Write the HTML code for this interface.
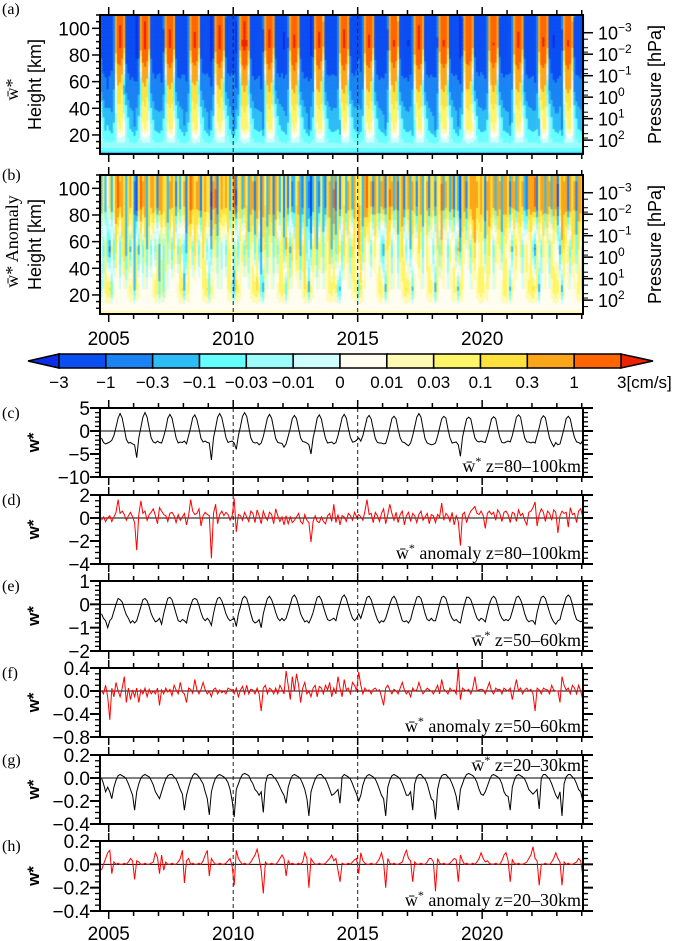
<!DOCTYPE html>
<html><head><meta charset="utf-8">
<style>
html,body{margin:0;padding:0;background:#fff;}
#wrap{position:relative;width:685px;height:941px;overflow:hidden;}
canvas,svg{position:absolute;left:0;top:0;}
text{font-family:"Liberation Sans",sans-serif;}
.serif{font-family:"Liberation Serif",serif;}
</style></head>
<body>
<div id="wrap">
<canvas id="cv" width="685" height="941"></canvas>
<svg id="sv" width="685" height="941" xmlns="http://www.w3.org/2000/svg"></svg>
</div>
<script>
// ---- data: monthly values from Sep 2004 to Jan 2024 ----
const startYear = 2004 + 8/12;
const wUpper = [-1.5,-2.5,-2.8,-2.6,
-2.4,-2.0,-1.0,0.8,2.8,3.8,2.8,0.5,-1.8,-2.6,-2.5,-2.8,
-3.0,-5.8,-1.5,0.8,3.0,4.0,3.0,0.6,-1.5,-2.4,-2.6,-2.2,
-2.5,-2.6,-1.2,0.5,2.8,3.6,2.8,0.6,-1.5,-2.6,-2.4,-2.5,
-2.2,-2.8,-1.0,0.8,2.9,3.5,2.5,0.5,-1.6,-2.4,-2.2,-2.5,
-2.6,-6.3,-1.5,0.7,3.0,3.8,2.9,0.8,-1.4,-2.5,-2.3,-2.2,
-2.6,-4.0,-1.0,1.0,3.2,4.0,3.2,0.8,-1.5,-2.4,-2.6,-2.5,
-3.0,-2.6,-1.2,0.8,2.8,3.6,2.8,0.5,-1.6,-2.5,-2.6,-2.7,
-3.5,-2.8,-1.1,0.6,2.7,3.4,2.7,0.5,-1.5,-2.3,-2.4,-2.6,
-3.0,-5.0,-1.5,0.5,2.8,3.5,2.6,0.4,-1.6,-2.6,-2.5,-2.4,
-2.8,-2.5,-1.0,0.8,2.9,3.6,2.8,0.6,-1.4,-2.4,-2.3,-2.0,
-1.5,-2.2,-1.0,0.8,2.8,3.4,2.6,0.5,-1.6,-2.5,-2.6,-2.6,
-2.8,-2.7,-1.2,0.6,2.7,3.2,2.6,0.4,-1.5,-2.4,-2.5,-2.9,
-3.2,-2.6,-1.0,0.9,3.0,3.8,3.0,0.6,-1.7,-2.6,-2.8,-3.0,
-2.9,-2.6,-1.1,0.7,2.6,3.2,2.8,0.5,-1.5,-2.6,-2.5,-2.4,
-3.0,-5.5,-1.4,0.6,2.6,3.0,2.6,0.5,-1.5,-2.2,-2.4,-2.2,
-2.4,-2.5,-1.0,0.6,2.6,3.1,2.7,0.5,-1.4,-2.5,-2.6,-2.4,
-2.2,-2.4,-1.0,0.9,3.0,3.5,3.0,0.6,-1.5,-2.4,-2.4,-2.6,
-2.4,-2.6,-1.0,0.7,2.7,3.3,2.9,0.5,-1.6,-2.6,-3.4,-2.5,
-3.0,-2.8,-1.2,0.6,2.7,3.2,2.6,0.4,-1.4,-2.4,-2.5,-2.8,
-2.0];
const aUpper = [-0.2,0.1,-0.3,0.0,
0.2,-0.3,0.1,0.5,1.6,0.4,0.6,0.3,-0.2,0.2,0.5,0.1,
-0.4,-2.8,0.3,1.5,0.4,0.6,-0.2,0.3,0.5,0.8,0.2,-0.5,
0.9,0.6,0.3,0.2,-0.3,0.4,0.5,0.2,-0.4,0.3,-0.2,0.1,
0.4,-0.6,0.2,1.6,0.6,0.3,0.4,0.8,-0.7,0.2,0.5,0.3,
0.2,-3.5,0.4,1.2,-0.5,0.3,0.6,0.2,0.5,0.3,-0.2,0.2,
1.7,-1.2,0.3,0.2,-0.2,0.5,0.1,-0.3,0.6,0.4,-0.4,0.7,
0.2,-0.5,0.6,0.1,-0.2,0.5,0.3,-0.5,0.8,0.2,-0.3,0.1,
-0.6,0.2,-0.5,0.1,-0.4,-0.2,0.1,0.4,-0.3,-0.5,0.3,-0.2,
-0.4,-2.1,-0.3,0.2,-0.3,-0.4,0.1,-0.3,-0.5,0.2,0.4,-0.3,
1.2,-0.4,0.3,-0.6,0.2,0.1,-0.3,0.4,0.2,-0.2,0.5,0.1,
0.3,0.1,-0.2,0.6,1.6,0.3,0.4,-0.4,0.5,0.2,-0.3,0.4,
0.8,-0.5,0.3,1.2,0.4,-0.2,0.5,-0.4,0.3,0.6,-0.6,0.2,
0.5,-0.3,0.4,0.2,-0.4,0.3,0.6,-0.2,0.1,0.4,-0.5,0.3,
0.2,-0.4,0.3,0.1,1.3,-0.2,0.4,0.2,-0.3,0.5,-0.6,0.2,
-0.3,-2.4,0.3,0.5,-0.4,0.2,0.6,0.8,1.0,0.4,0.3,0.6,
0.2,-0.9,0.4,0.6,0.3,0.5,-0.2,0.7,0.4,-0.3,0.5,0.6,
0.3,-0.4,0.5,0.4,-0.3,0.7,0.2,0.4,-0.2,-0.6,0.5,0.6,
0.9,1.4,-0.7,0.3,0.8,0.5,-0.3,0.6,0.4,-0.2,0.7,0.5,
-1.3,0.2,0.6,0.4,0.5,-0.8,0.9,0.3,0.4,-0.4,0.6,0.8,
0.1];
const wMid = [-0.4,-0.6,-0.7,-1.0,
-0.7,-0.6,-0.3,0.0,0.25,0.2,0.1,-0.2,-0.45,-0.6,-0.8,-0.7,
-0.8,-0.7,-0.4,-0.1,0.2,0.25,0.15,-0.1,-0.4,-0.6,-0.75,-0.7,
-0.6,-0.85,-0.4,-0.05,0.25,0.3,0.2,-0.1,-0.4,-0.7,-0.75,-0.65,
-0.7,-0.8,-0.35,-0.05,0.2,0.25,0.2,-0.05,-0.35,-0.6,-0.7,-0.6,
-0.7,-0.9,-0.4,0.0,0.25,0.3,0.15,-0.1,-0.4,-0.6,-0.7,-0.65,
-0.6,-0.95,-0.4,-0.1,0.25,0.35,0.25,-0.05,-0.4,-0.7,-0.8,-0.75,
-0.65,-1.0,-0.4,-0.05,0.25,0.35,0.2,-0.05,-0.35,-0.6,-0.7,-0.6,
-0.7,-0.6,-0.3,0.0,0.3,0.4,0.25,-0.05,-0.4,-0.6,-0.75,-0.7,
-0.8,-0.6,-0.35,0.0,0.3,0.35,0.2,-0.1,-0.4,-0.65,-0.7,-0.65,
-0.6,-0.7,-0.3,0.0,0.3,0.4,0.25,-0.05,-0.35,-0.6,-0.7,-0.6,
-0.4,-0.6,-0.3,0.0,0.3,0.35,0.2,-0.1,-0.4,-0.65,-0.8,-0.7,
-0.75,-0.6,-0.3,0.0,0.25,0.35,0.2,-0.1,-0.4,-0.7,-0.75,-0.7,
-0.8,-0.65,-0.3,0.0,0.3,0.35,0.25,-0.05,-0.4,-0.65,-0.7,-0.6,
-0.7,-0.7,-0.35,0.0,0.3,0.35,0.25,-0.05,-0.4,-0.6,-0.7,-0.65,
-0.75,-0.8,-0.35,0.0,0.3,0.3,0.2,-0.05,-0.35,-0.6,-0.7,-0.6,
-0.65,-0.75,-0.35,0.0,0.25,0.35,0.25,-0.05,-0.4,-0.6,-0.7,-0.65,
-0.7,-0.6,-0.3,0.0,0.3,0.35,0.2,-0.05,-0.4,-0.65,-0.75,-0.7,
-0.7,-0.85,-0.35,0.0,0.3,0.35,0.25,-0.05,-0.35,-0.6,-0.75,-0.85,
-0.7,-0.65,-0.3,0.0,0.3,0.4,0.3,0.0,-0.4,-0.65,-0.7,-0.75,
-0.7];
const aMid = [0.0,-0.05,0.1,-0.1,
-0.5,0.05,-0.1,0.15,0.0,-0.1,0.05,0.25,-0.2,0.05,-0.15,0.02,
-0.1,0.05,-0.2,0.02,-0.05,0.05,-0.1,0.03,-0.05,0.0,-0.05,0.05,
-0.25,0.02,-0.05,0.05,-0.02,0.03,-0.08,0.1,0.02,-0.05,0.15,-0.02,
-0.05,-0.2,0.05,0.03,-0.04,0.2,0.02,-0.05,0.03,0.15,0.02,-0.05,
0.0,-0.1,0.03,0.05,-0.05,0.02,-0.03,0.0,-0.05,0.05,0.03,0.02,
-0.05,0.05,-0.1,0.02,0.08,-0.05,0.1,-0.05,0.03,0.02,-0.05,0.05,
-0.05,-0.35,0.05,0.1,-0.05,0.05,0.02,-0.05,0.05,-0.05,0.1,0.03,
-0.05,0.35,0.1,-0.15,0.25,0.0,0.3,0.1,-0.2,0.05,0.15,-0.05,
0.0,-0.1,0.05,0.1,-0.1,0.08,0.05,-0.05,0.1,0.02,0.15,-0.1,
0.05,-0.05,0.25,0.05,-0.1,0.2,0.02,0.05,-0.05,0.15,0.1,0.0,
0.33,0.1,-0.05,0.05,0.0,0.02,-0.05,0.03,0.05,0.0,0.02,-0.1,
-0.25,0.05,0.1,0.02,-0.05,0.03,0.0,-0.05,0.05,0.15,0.02,-0.05,
0.0,-0.1,0.05,0.0,0.02,0.15,0.03,-0.05,0.0,0.05,0.02,0.0,
-0.05,0.02,0.1,-0.05,0.2,0.03,0.0,-0.05,0.05,0.0,0.02,-0.05,
0.4,-0.15,0.05,0.02,0.0,0.03,-0.05,0.05,0.25,0.0,0.02,0.03,
0.02,-0.05,0.05,0.15,0.0,-0.05,0.05,0.02,0.03,-0.05,0.05,0.02,
0.0,0.05,-0.15,0.03,0.2,0.0,0.05,-0.05,0.02,0.05,0.0,0.03,
-0.05,-0.35,0.05,0.02,-0.05,0.05,0.03,0.02,-0.05,0.1,0.02,0.0,
0.0,-0.2,0.25,0.1,0.02,0.05,-0.05,0.1,0.05,-0.05,0.1,0.0,
-0.15];
const wLow = [0.0,-0.05,-0.12,-0.08,
-0.12,-0.18,-0.08,-0.02,0.02,0.03,0.02,0.01,-0.01,-0.05,-0.1,-0.15,
-0.28,-0.12,-0.05,0.0,0.02,0.03,0.02,0.01,-0.02,-0.06,-0.12,-0.15,
-0.18,-0.12,-0.06,-0.01,0.02,0.03,0.03,0.01,-0.01,-0.05,-0.1,-0.14,
-0.28,-0.15,-0.08,-0.02,0.02,0.04,0.03,0.01,-0.02,-0.05,-0.12,-0.18,
-0.32,-0.12,-0.05,0.0,0.02,0.03,0.02,0.01,-0.01,-0.04,-0.1,-0.2,
-0.34,-0.1,-0.05,0.0,0.03,0.04,0.03,0.02,-0.02,-0.05,-0.1,-0.12,
-0.15,-0.12,-0.3,-0.05,0.02,0.03,0.03,0.01,-0.01,-0.04,-0.08,-0.12,
-0.15,-0.22,-0.08,-0.02,0.02,0.03,0.02,0.01,-0.01,-0.05,-0.1,-0.18,
-0.33,-0.12,-0.06,-0.01,0.02,0.03,0.03,0.01,-0.01,-0.05,-0.1,-0.15,
-0.14,-0.12,-0.1,-0.22,0.01,0.03,0.02,0.01,-0.01,-0.05,-0.1,-0.14,
-0.2,-0.15,-0.06,-0.01,0.02,0.03,0.02,0.01,-0.01,-0.05,-0.1,-0.15,
-0.18,-0.33,-0.08,-0.02,0.02,0.03,0.02,0.01,-0.01,-0.05,-0.1,-0.15,
-0.15,-0.12,-0.28,-0.05,0.01,0.03,0.03,0.01,-0.01,-0.05,-0.12,-0.18,
-0.2,-0.36,-0.1,-0.02,0.02,0.03,0.03,0.01,-0.01,-0.05,-0.1,-0.16,
-0.28,-0.1,-0.05,0.0,0.03,0.04,0.03,0.02,0.0,-0.04,-0.1,-0.14,
-0.15,-0.12,-0.07,-0.02,0.02,0.03,0.02,0.01,-0.01,-0.05,-0.12,-0.15,
-0.16,-0.28,-0.08,-0.02,0.02,0.03,0.02,0.01,-0.01,-0.05,-0.1,-0.12,
-0.14,-0.12,-0.1,-0.27,0.0,0.03,0.03,0.01,-0.01,-0.05,-0.1,-0.15,
-0.18,-0.12,-0.33,-0.05,0.01,0.03,0.03,0.01,-0.01,-0.05,-0.1,-0.12,
-0.2];
const aLow = [-0.05,0.0,0.05,0.1,
0.12,-0.08,0.02,0.0,0.01,0.0,0.0,0.01,0.0,0.02,0.05,0.03,
-0.13,0.03,0.02,0.0,0.0,0.01,0.0,0.0,0.01,0.02,0.1,0.06,
-0.08,0.08,-0.05,0.02,0.0,0.0,0.01,0.0,0.0,0.02,0.05,0.12,
-0.16,0.03,0.05,0.0,0.01,0.0,0.0,0.01,0.0,0.03,0.08,0.12,
-0.1,0.05,0.02,0.0,0.0,0.01,0.0,0.0,0.01,0.03,0.05,-0.02,
-0.18,0.12,0.05,0.02,0.0,0.01,0.0,0.0,0.02,0.05,0.08,0.13,
0.05,-0.05,-0.25,0.02,0.0,0.0,0.01,0.0,0.0,0.02,0.05,0.08,
0.05,-0.1,0.03,0.0,0.01,0.0,0.0,0.01,0.0,0.02,0.1,0.05,
-0.2,0.05,0.02,0.0,0.0,0.01,0.0,0.0,0.01,0.03,0.05,0.08,
0.03,0.05,-0.05,-0.15,0.01,0.0,0.0,0.01,0.0,0.02,0.04,0.05,
-0.08,0.1,0.03,0.01,0.0,0.0,0.01,0.0,0.0,0.02,0.05,0.1,
0.02,-0.2,0.05,0.01,0.0,0.01,0.0,0.0,0.01,0.02,0.08,0.12,
0.05,0.03,-0.15,0.02,0.0,0.0,0.01,0.0,0.0,0.02,0.05,0.05,
0.02,-0.23,0.05,0.01,0.0,0.01,0.0,0.0,0.01,0.03,0.05,0.04,
-0.15,0.08,0.03,0.0,0.01,0.0,0.0,0.01,0.0,0.02,0.05,0.1,
0.05,0.02,0.03,0.01,0.0,0.0,0.01,0.0,0.0,0.03,0.08,0.1,
0.03,-0.15,0.04,0.01,0.0,0.01,0.0,0.0,0.01,0.02,0.05,0.08,
0.15,0.05,0.03,-0.18,0.0,0.0,0.01,0.0,0.0,0.02,0.05,0.1,
0.05,0.02,-0.18,0.02,0.0,0.01,0.0,0.0,0.01,0.02,0.05,0.03,
-0.1];
const yearTicks = [2005,2010,2015,2020];
const cbLevels = [-3,-1,-0.3,-0.1,-0.03,-0.01,0,0.01,0.03,0.1,0.3,1,3];
const cbLabels = ["\u22123","\u22121","\u22120.3","\u22120.1","\u22120.03","\u22120.01","0","0.01","0.03","0.1","0.3","1","3[cm/s]"];
const heightTicks = [20,40,60,80,100];
const pressureTicks = [-3,-2,-1,0,1,2];

// ---- geometry ----
const X0=100, X1=583, T0=2004.65, T1=2024.05;
const xs = t => X0 + (t-T0)/(T1-T0)*(X1-X0);
const colors = ["#0c2ee6","#0b4ef2","#1a84f4","#2dbdf6","#66ffff","#9cfbfb","#d0fdfd","#fffdf0","#fffab4","#fff568","#ffe23e","#fba61a","#ff6600","#ee2200"];
function colorOf(v){let i=0;while(i<cbLevels.length&&v>=cbLevels[i])i++;return colors[i];}
const svg=document.getElementById('sv');
const NS="http://www.w3.org/2000/svg";
function el(tag,attrs,parent){const e=document.createElementNS(NS,tag);for(const k in attrs)e.setAttribute(k,attrs[k]);(parent||svg).appendChild(e);return e;}
function txt(s,attrs,parent){const e=el('text',attrs,parent);e.textContent=s;return e;}

// ---- heatmaps ----
const ctx=document.getElementById('cv').getContext('2d');
const ash=v=>Math.asinh(v/0.01), sh=u=>0.01*Math.sinh(u);
function profile(z, up, mid, low, base){
  const anchors=[[5,base[0]],[12,base[1]],[25,low],[55,mid],[88,up],[110,up*0.7]];
  for(let k=0;k<anchors.length-1;k++){
    const [za,va]=anchors[k],[zb,vb]=anchors[k+1];
    if(z<=zb){const f=(z-za)/(zb-za);return sh(ash(va)*(1-f)+ash(vb)*f);}
  }
  return anchors[anchors.length-1][1];
}
function heatmap(top,bottom,up,mid,low,base){
  const zB=5.7,zT=110,ys=z=>bottom-(z-zB)/(zT-zB)*(bottom-top);
  for(let i=0;i<up.length;i++){
    const t=startYear+i/12, xa=Math.max(X0,xs(t)), xb=Math.min(X1,xs(t+1/12));
    if(xb<=xa)continue;
    for(let z=zB;z<zT;z+=1){
      ctx.fillStyle=colorOf(profile(z+0.5,up[i],mid[i],low[i],base));
      const ya=ys(Math.min(z+1,zT)), yb=ys(z);
      ctx.fillRect(xa,ya,xb-xa+0.6,yb-ya+0.6);
    }
  }
  return ys;
}
function heatAxes(name,top,bottom,ys,label,showYears){
  const g=el('g',{});
  
  
  el('rect',{x:X0,y:top,width:X1-X0,height:bottom-top,fill:'none',stroke:'#000','stroke-width':2},g);
  for(let y=2005;y<=2024;y++){const x=xs(y),L=(y%5===0)?8:5;
    el('line',{x1:x,x2:x,y1:top,y2:top-L,stroke:'#000','stroke-width':1.5},g);
    el('line',{x1:x,x2:x,y1:bottom,y2:bottom+L,stroke:'#000','stroke-width':1.5},g);}
  [2010,2015].forEach(y=>el('line',{x1:xs(y),x2:xs(y),y1:top,y2:bottom,stroke:'#222','stroke-width':1,'stroke-dasharray':'4,3'},g));
  for(let z=10;z<=110;z+=5){const L=(z%20===0)?8:4;el('line',{x1:X0,x2:X0-L,y1:ys(z),y2:ys(z),stroke:'#000','stroke-width':1.5},g);}
  heightTicks.forEach(z=>txt(String(z),{x:X0-10,y:ys(z)+7,'text-anchor':'end','font-size':19},g));
  pressureTicks.forEach(e=>{const z=-7*Math.log(Math.pow(10,e)/1000),y=ys(z);
    el('line',{x1:X1,x2:X1+10,y1:y,y2:y,stroke:'#000','stroke-width':1.5},g);
    const t=txt('10',{x:598,y:y+7,'font-size':18},g);
    const s=el('tspan',{dy:-8,'font-size':12},t);s.textContent=(e<0?'\u2212'+(-e):String(e));});
  for(let e=-3;e<=2;e++)for(let m=2;m<10;m+=3){const z=-7*Math.log(m*Math.pow(10,e)/1000);if(z>5.7&&z<110)el('line',{x1:X1,x2:X1+5,y1:ys(z),y2:ys(z),stroke:'#000','stroke-width':1},g);}
  const cy=(top+bottom)/2;
  txt('Height [km]',{x:0,y:0,transform:`translate(41,${cy}) rotate(-90)`,'text-anchor':'middle','font-size':18},g);
  txt('Pressure [hPa]',{x:0,y:0,transform:`translate(661,${cy}) rotate(-90)`,'text-anchor':'middle','font-size':18},g);
  txt(label,{x:0,y:0,transform:`translate(18,${label.length>4?cy-3:cy+5}) rotate(-90)`,'text-anchor':'middle','font-size':18,class:'serif'},g);
  if(showYears)yearTicks.forEach(y=>txt(String(y),{x:xs(y),y:bottom+31,'text-anchor':'middle','font-size':19},g));
}
const ysA=heatmap(15,154,wUpper,wMid,wLow,[-0.25,-0.02]);
const ysB=heatmap(175,314,aUpper,aMid,aLow,[0.02,0.005]);
heatAxes('panel-a-heatmap',15,154,ysA,'w\u0304*',false);
heatAxes('panel-b-heatmap',175,314,ysB,'w\u0304* Anomaly',true);
txt('(a)',{x:2,y:14,'font-size':16,class:'serif'});
txt('(b)',{x:2,y:180,'font-size':16,class:'serif'});

// ---- colorbar ----
(function(){
  const g=el('g',{});
  
  
  const cx0=59,cx1=621,cy0=354,cy1=368,n=cbLevels.length-1,w=(cx1-cx0)/n;
  el('polygon',{points:`${cx0},${cy0} ${cx0},${cy1} 28,${(cy0+cy1)/2}`,fill:colors[0],stroke:'#000','stroke-width':1.5},g);
  el('polygon',{points:`${cx1},${cy0} ${cx1},${cy1} 653,${(cy0+cy1)/2}`,fill:colors[13],stroke:'#000','stroke-width':1.5},g);
  for(let i=0;i<n;i++)el('rect',{x:cx0+i*w,y:cy0,width:w,height:cy1-cy0,fill:colors[i+1],stroke:'#000','stroke-width':1.5},g);
  cbLabels.forEach((s,i)=>{const x=cx0+i*w;txt(s,{x:i===n?x-4:x,y:388,'text-anchor':i===n?'start':'middle','font-size':17},g);});
})();

// ---- line panels ----
const panels=[
 {id:'c',data:wUpper,top:408,bot:477,min:-10,max:5,major:[-10,-5,0,5],minor:1,lab:v=>String(v),col:'#000',ann:'z=80\u2013100km',annTop:false},
 {id:'d',data:aUpper,top:495,bot:564,min:-4,max:2,major:[-4,-2,0,2],minor:0.5,lab:v=>String(v),col:'#f00',ann:'anomaly z=80\u2013100km',annTop:false},
 {id:'e',data:wMid,top:581,bot:651,min:-2,max:1,major:[-2,-1,0,1],minor:0.2,lab:v=>String(v),col:'#000',ann:'z=50\u201360km',annTop:false},
 {id:'f',data:aMid,top:668,bot:737,min:-0.8,max:0.4,major:[-0.8,-0.4,0,0.4],minor:0.1,lab:v=>v.toFixed(1),col:'#f00',ann:'anomaly z=50\u201360km',annTop:false},
 {id:'g',data:wLow,top:755,bot:824,min:-0.4,max:0.2,major:[-0.4,-0.2,0,0.2],minor:0.05,lab:v=>v.toFixed(1),col:'#000',ann:'z=20\u201330km',annTop:true},
 {id:'h',data:aLow,top:841,bot:911,min:-0.4,max:0.2,major:[-0.4,-0.2,0,0.2],minor:0.05,lab:v=>v.toFixed(1),col:'#f00',ann:'anomaly z=20\u201330km',annTop:false}
];
panels.forEach((p,pi)=>{
  const g=el('g',{});
  
  
  const ys=v=>p.bot-(v-p.min)/(p.max-p.min)*(p.bot-p.top);
  for(let y=2005;y<=2024;y++){const x=xs(y),L=(y%5===0)?8:5;
    el('line',{x1:x,x2:x,y1:p.top,y2:p.top-L,stroke:'#000','stroke-width':1.5},g);
    el('line',{x1:x,x2:x,y1:p.bot,y2:p.bot+L,stroke:'#000','stroke-width':1.5},g);}
  [2010,2015].forEach(y=>el('line',{x1:xs(y),x2:xs(y),y1:p.top,y2:p.bot,stroke:'#222','stroke-width':1,'stroke-dasharray':'4,3'},g));
  el('line',{x1:X0,x2:X1,y1:ys(0),y2:ys(0),stroke:'#000','stroke-width':1},g);
  const nm=Math.round((p.max-p.min)/p.minor);
  for(let k=0;k<=nm;k++){const v=p.min+k*p.minor,y=ys(v);const isMaj=p.major.some(m=>Math.abs(m-v)<1e-6);const L=isMaj?10:5;
    el('line',{x1:X0,x2:X0-L,y1:y,y2:y,stroke:'#000','stroke-width':isMaj?2:1.3},g);
    el('line',{x1:X1,x2:X1+L,y1:y,y2:y,stroke:'#000','stroke-width':isMaj?2:1.3},g);}
  p.major.forEach(v=>txt(p.lab(v).replace('-','\u2212'),{x:X0-10,y:ys(v)+7,'text-anchor':'end','font-size':19},g));
  const pts=p.data.map((v,i)=>{const t=startYear+(i+0.5)/12;return [xs(t),ys(v)];}).filter(q=>q[0]>=X0&&q[0]<=X1);
  const line=el('polyline',{points:pts.map(q=>q[0].toFixed(1)+','+q[1].toFixed(1)).join(' '),fill:'none',stroke:p.col,'stroke-width':1},g);
  
  
  el('rect',{x:X0,y:p.top,width:X1-X0,height:p.bot-p.top,fill:'none',stroke:'#000','stroke-width':2},g);
  const ay=p.annTop?p.top+16:p.bot-5;
  const a=txt('w\u0304',{x:X1-2,y:ay,'text-anchor':'end','font-size':18,class:'serif'},g);
  const s=el('tspan',{dy:-7,'font-size':12},a);s.textContent='*';
  const s2=el('tspan',{dy:7},a);s2.textContent=' '+p.ann;
  
  txt('('+p.id+')',{x:2,y:p.top+10,'font-size':16,class:'serif'},g);
  const wl=txt('w*',{x:0,y:0,transform:`translate(39,${(p.top+p.bot)/2}) rotate(-90)`,'text-anchor':'middle','font-size':17,'font-weight':'bold'},g);
  
  if(pi===panels.length-1)yearTicks.forEach(y=>txt(String(y),{x:xs(y),y:p.bot+29,'text-anchor':'middle','font-size':19},g));
});
</script>
</body></html>
